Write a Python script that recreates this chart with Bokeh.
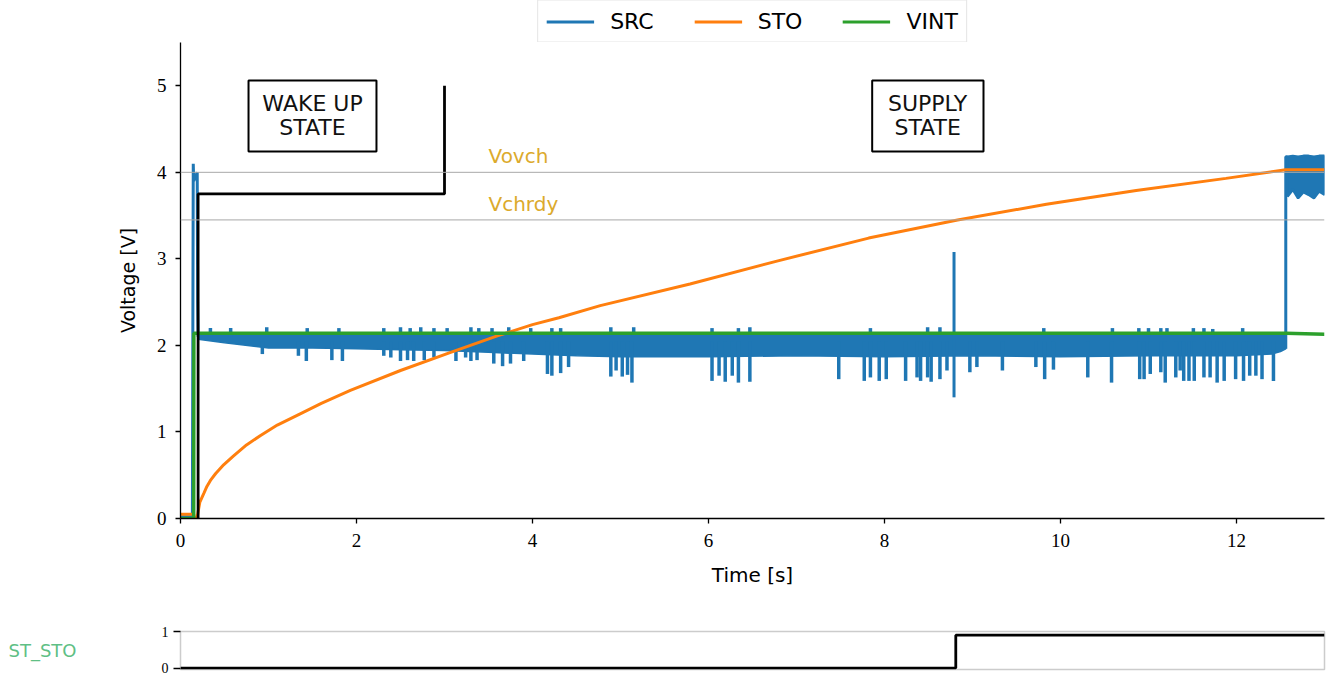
import numpy as np
from bokeh.plotting import figure
from bokeh.models import (Range1d, FixedTicker, Span, Label, BoxAnnotation, Legend, LegendItem)
from bokeh.layouts import column
from bokeh.embed import file_html
from bokeh.resources import INLINE

# ---------------- data ----------------
# SRC start (wake-up transient)
src_start_t = [0.0, 0.135, 0.145, 0.15, 0.19, 0.195, 0.2]
src_start_v = [0.02, 0.02, 4.10, 3.90, 4.00, 2.50, 2.10]

# SRC dense noise band during supply state (upper / lower envelope)
band_t = [0.2, 0.5, 1.0, 1.5, 2.0, 2.5, 3.0, 3.5, 4.0, 4.5, 5.0, 6.0, 7.0, 8.0, 9.0, 10.0, 11.0, 12.0, 12.4, 12.5, 12.56]
band_lo = [2.07, 2.03, 1.97, 1.97, 1.96, 1.95, 1.94, 1.92, 1.90, 1.88, 1.87, 1.87, 1.88, 1.87, 1.88, 1.87, 1.88, 1.88, 1.90, 1.93, 1.96]
band_hi = [2.12, 2.12, 2.12, 2.12, 2.12, 2.12, 2.12, 2.12, 2.12, 2.12, 2.12, 2.12, 2.12, 2.12, 2.12, 2.12, 2.12, 2.12, 2.12, 2.12, 2.12]

# SRC downward spikes (time, minimum)
dn_t = [0.93, 1.34, 1.43, 1.72, 1.84, 2.31, 2.39, 2.50, 2.58, 2.65, 2.77, 2.88, 3.13, 3.24, 3.30, 3.37,
        3.56, 3.66, 3.75, 3.90, 4.17, 4.22, 4.32, 4.41,
        4.89, 4.95, 5.02, 5.08, 5.13, 6.04, 6.12, 6.19, 6.27, 6.34, 6.47, 7.48, 7.77, 7.84, 7.94, 8.02,
        8.24, 8.37, 8.41, 8.49, 8.53, 8.63, 8.71,
        8.97, 9.05, 9.34, 9.72, 9.82, 9.92, 10.31, 10.58, 10.90, 10.95, 11.02, 11.14, 11.19, 11.31, 11.36,
        11.40, 11.46, 11.52, 11.63, 11.70, 11.78, 11.86, 11.99, 12.08, 12.15, 12.22, 12.29, 12.42]
dn_v = [1.90, 1.88, 1.82, 1.83, 1.82, 1.88, 1.86, 1.82, 1.83, 1.82, 1.83, 1.86, 1.82, 1.86, 1.82, 1.83,
        1.79, 1.76, 1.79, 1.82, 1.67, 1.65, 1.68, 1.75,
        1.64, 1.71, 1.64, 1.66, 1.57, 1.59, 1.65, 1.58, 1.65, 1.57, 1.58, 1.61, 1.59, 1.63, 1.59, 1.61,
        1.59, 1.63, 1.59, 1.63, 1.58, 1.61, 1.71,
        1.69, 1.75, 1.71, 1.75, 1.61, 1.72, 1.63, 1.57, 1.61, 1.61, 1.67, 1.69, 1.57, 1.63, 1.71,
        1.59, 1.59, 1.59, 1.63, 1.63, 1.57, 1.59, 1.61, 1.59, 1.65, 1.65, 1.61, 1.59]

# SRC upward spikes (time, maximum)
up_t = [0.34, 0.57, 0.98, 1.44, 1.80, 2.31, 2.50, 2.61, 2.73, 2.88, 3.03, 3.30, 3.39, 3.54, 3.73, 3.98, 4.22, 4.32,
        4.89, 5.15, 6.04, 6.34, 6.47, 7.84, 8.49, 8.63, 9.81, 10.59, 10.89, 11.00, 11.14, 11.21, 11.51, 11.63, 11.73, 12.07]
up_v = [2.20, 2.20, 2.21, 2.20, 2.20, 2.20, 2.21, 2.20, 2.21, 2.20, 2.20, 2.21, 2.20, 2.20, 2.21, 2.20, 2.20, 2.20,
        2.21, 2.21, 2.20, 2.20, 2.21, 2.20, 2.21, 2.21, 2.20, 2.20, 2.20, 2.20, 2.20, 2.20, 2.20, 2.20, 2.19, 2.20]

# isolated SRC glitch near 8.8 s
glitch_t = [8.79]
glitch_lo = [1.40]
glitch_hi = [3.08]

# SRC jump and high band after STO reaches Vovch
jump_t = [12.56, 12.56, 12.58]
jump_v = [1.96, 4.18, 4.18]
hiband_t = [12.58, 12.64, 12.70, 12.76, 12.82, 12.88, 12.94, 13.0]
hiband_lo = [3.72, 3.80, 3.70, 3.77, 3.74, 3.70, 3.78, 3.74]
hiband_hi = [4.18, 4.19, 4.18, 4.19, 4.19, 4.18, 4.19, 4.19]

# STO
sto_t = [0.0, 0.15, 0.16, 0.19, 0.22, 0.265, 0.30, 0.34, 0.40, 0.49, 0.60, 0.75, 0.91, 1.10, 1.36, 1.60, 1.93,
         2.5, 3.07, 3.6, 4.0, 4.3, 4.77, 5.79, 6.80, 7.82, 8.83, 9.84, 10.86, 11.88, 12.56, 13.0]
sto_v = [0.05, 0.05, 0.0, 0.02, 0.19, 0.29, 0.37, 0.44, 0.52, 0.62, 0.72, 0.85, 0.96, 1.08, 1.21, 1.33, 1.48,
         1.71, 1.92, 2.11, 2.24, 2.32, 2.46, 2.71, 2.98, 3.24, 3.45, 3.63, 3.79, 3.93, 4.03, 4.03]

# VINT
vint_t = [0.0, 0.15, 0.152, 12.56, 13.0]
vint_v = [0.0, 0.0, 2.14, 2.14, 2.13]

# state marker line
state_t = [0.2, 0.2, 3.0, 3.0]
state_v = [0.0, 3.75, 3.75, 5.0]

# thresholds
vovch = 4.0
vchrdy = 3.45

# ST_STO digital signal
st_t = [0.0, 8.81, 8.81, 13.0]
st_v = [0.0, 0.0, 0.9, 0.9]

series_names = ["SRC", "STO", "VINT"]
x_ticks = [0, 2, 4, 6, 8, 10, 12]
y_ticks = [0, 1, 2, 3, 4, 5]

BLUE, ORANGE, GREEN = "#1f77b4", "#ff7f0e", "#2ca02c"
GOLD = "#dcaa2c"
SANS = "DejaVu Sans"
SERIF = "Liberation Serif"

# ---------------- legend strip ----------------
lg = figure(width=1326, height=42, output_backend="svg", toolbar_location=None,
            x_range=Range1d(0, 1), y_range=Range1d(0, 1),
            min_border_left=180, min_border_right=2, min_border_top=0, min_border_bottom=0)
lg.axis.visible = False
lg.grid.visible = False
lg.outline_line_color = None
# off-screen stand-ins so the legend can draw its line samples
lg_renderers = [lg.line([-3, -2], [-3, -3], color=c, line_width=3) for c in (BLUE, ORANGE, GREEN)]
legend = Legend(items=[LegendItem(label=n, renderers=[r]) for n, r in zip(series_names, lg_renderers)],
                orientation="horizontal", location="center", margin=0, padding=8,
                glyph_width=48, glyph_height=22, label_standoff=16, spacing=40,
                label_text_font=SANS, label_text_font_size="22px", label_text_color="black",
                border_line_color="#cccccc", border_line_width=1.5, background_fill_alpha=0.9)
lg.add_layout(legend)

# ---------------- main figure ----------------
p = figure(width=1326, height=558, output_backend="svg", toolbar_location=None,
           x_range=Range1d(0, 13), y_range=Range1d(0, 5.5),
           min_border_left=180, min_border_right=2, min_border_top=0, min_border_bottom=82)
p.outline_line_color = None
p.grid.visible = False
p.background_fill_color = "white"

# SRC
p.line(src_start_t, src_start_v, color=BLUE, line_width=3)
band_x = band_t + band_t[::-1]
band_y = band_lo + band_hi[::-1]
p.patch(band_x, band_y, fill_color=BLUE, line_color=BLUE, line_width=1.5)
p.segment(x0=dn_t, y0=[2.05] * len(dn_t), x1=dn_t, y1=dn_v, color=BLUE, line_width=3.5)
p.segment(x0=up_t, y0=[2.1] * len(up_t), x1=up_t, y1=up_v, color=BLUE, line_width=3.5)
p.segment(x0=glitch_t, y0=glitch_lo, x1=glitch_t, y1=glitch_hi, color=BLUE, line_width=3)
p.line(jump_t, jump_v, color=BLUE, line_width=3)
hb_x = hiband_t + hiband_t[::-1]
hb_y = hiband_lo + hiband_hi[::-1]
p.patch(hb_x, hb_y, fill_color=BLUE, line_color=BLUE, line_width=2.5)

# STO, VINT
p.line(sto_t, sto_v, color=ORANGE, line_width=3)
p.line(vint_t, vint_v, color=GREEN, line_width=3.5)

# state line
p.line(state_t, state_v, color="black", line_width=2.8)

# thresholds
for lvl in (vovch, vchrdy):
    p.add_layout(Span(location=lvl, dimension="width", line_color="#a8a8a8", line_width=1))
p.add_layout(Label(x=3.5, y=4.19, text="Vovch", text_color=GOLD, text_font=SANS, text_font_size="20px",
                   text_baseline="middle"))
p.add_layout(Label(x=3.5, y=3.63, text="Vchrdy", text_color=GOLD, text_font=SANS, text_font_size="20px",
                   text_baseline="middle"))

# state boxes
p.add_layout(BoxAnnotation(left=0.773, right=2.227, bottom=4.24, top=5.06, fill_color="white", fill_alpha=1,
                           line_color="black", line_alpha=1, line_width=2))
p.add_layout(BoxAnnotation(left=7.86, right=9.125, bottom=4.24, top=5.06, fill_color="white", fill_alpha=1,
                           line_color="black", line_alpha=1, line_width=2))
p.add_layout(Label(x=1.5, y=4.66, text="WAKE UP\nSTATE", text_align="center", text_baseline="middle",
                   text_font=SANS, text_font_size="22px", text_line_height=0.95, text_color="#111111"))
p.add_layout(Label(x=8.49, y=4.66, text="SUPPLY\nSTATE", text_align="center", text_baseline="middle",
                   text_font=SANS, text_font_size="22px", text_line_height=0.95, text_color="#111111"))

# axes
for ax in (p.xaxis[0], p.yaxis[0]):
    ax.major_label_text_font = SERIF
    ax.major_label_text_font_size = "19px"
    ax.major_label_text_color = "black"
    ax.axis_line_color = "black"
    ax.axis_line_width = 1.3
    ax.major_tick_line_color = "black"
    ax.major_tick_line_width = 1.3
    ax.major_tick_out = 5
    ax.major_tick_in = 0
    ax.minor_tick_line_color = None
p.xaxis.ticker = FixedTicker(ticks=x_ticks)
p.yaxis.ticker = FixedTicker(ticks=y_ticks)
p.xaxis.major_label_standoff = 10
p.yaxis.major_label_standoff = 9
p.xaxis.axis_label = "Time [s]"
p.xaxis.axis_label_text_font = SANS
p.xaxis.axis_label_text_font_size = "20px"
p.xaxis.axis_label_text_font_style = "normal"
p.xaxis.axis_label_text_color = "black"
p.xaxis.axis_label_standoff = 13
p.yaxis.axis_label = "Voltage [V]"
p.yaxis.axis_label_text_font = SANS
p.yaxis.axis_label_text_font_size = "19px"
p.yaxis.axis_label_text_font_style = "normal"
p.yaxis.axis_label_text_color = "black"
p.yaxis.axis_label_standoff = 15

# ---------------- ST_STO strip ----------------
q = figure(width=1326, height=76, output_backend="svg", toolbar_location=None,
           x_range=Range1d(0, 13), y_range=Range1d(-0.04, 1.0),
           min_border_left=180, min_border_right=2, min_border_top=31, min_border_bottom=7)
q.grid.visible = False
q.xaxis.visible = False
q.outline_line_color = "#cccccc"
q.outline_line_width = 1.5
q.line(st_t, st_v, color="black", line_width=2.8)
q.yaxis.ticker = FixedTicker(ticks=[0, 1])
q.yaxis.axis_line_color = None
q.yaxis.major_tick_line_color = "black"
q.yaxis.major_tick_line_width = 1.3
q.yaxis.major_tick_out = 7
q.yaxis.major_tick_in = 0
q.yaxis.minor_tick_line_color = None
q.yaxis.major_label_text_font = SERIF
q.yaxis.major_label_text_font_size = "14px"
q.yaxis.major_label_text_color = "black"
q.yaxis.major_label_standoff = 5
q.yaxis.axis_label = "ST_STO"
q.yaxis.axis_label_orientation = "horizontal"
q.yaxis.axis_label_text_font = SANS
q.yaxis.axis_label_text_font_size = "18px"
q.yaxis.axis_label_text_font_style = "normal"
q.yaxis.axis_label_text_color = "#5fbf85"
q.yaxis.axis_label_standoff = 82

layout = column(lg, p, q, spacing=0)
open("out.html", "w").write(file_html(layout, INLINE))
